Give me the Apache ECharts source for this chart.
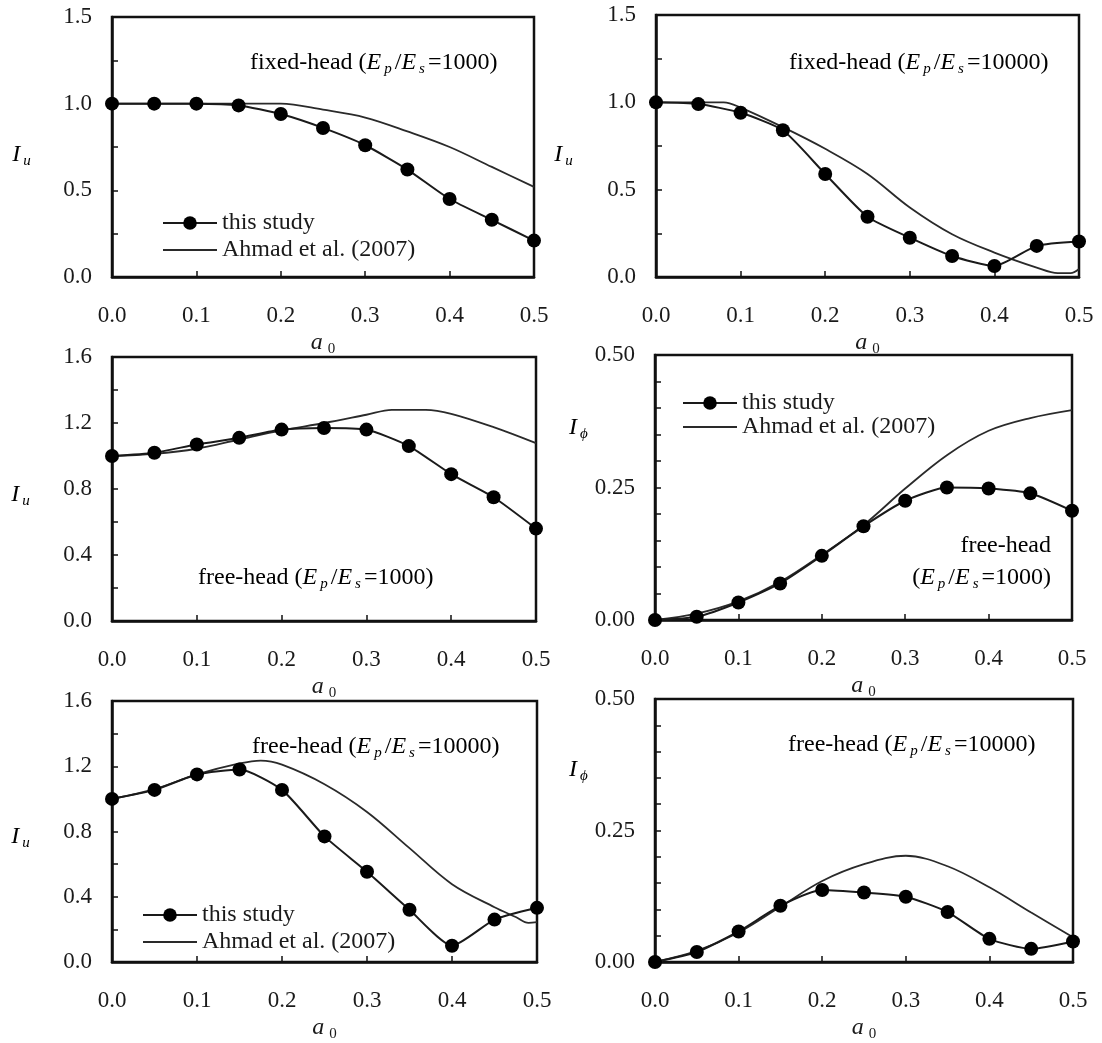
<!DOCTYPE html>
<html>
<head>
<meta charset="utf-8">
<script src="https://cdn.jsdelivr.net/npm/echarts@6/dist/echarts.min.js"></script>
<style>
  html, body { margin: 0; padding: 0; background: #fff; }
  #chart { width: 1102px; height: 1043px; }
</style>
</head>
<body>
<div id="chart"></div>
<script>
// frequency points of "this study"
const a0 = [0, 0.05, 0.1, 0.15, 0.2, 0.25, 0.3, 0.35, 0.4, 0.45, 0.5];
const xTicks = ['0.0', '0.1', '0.2', '0.3', '0.4', '0.5'];

// fixed-head, Ep/Es = 1000 (Iu)
const fixed1000Study = [1.0, 1.0, 1.0, 0.99, 0.94, 0.86, 0.76, 0.62, 0.45, 0.33, 0.21];
const fixed1000AhmadX = [0, 0.05, 0.1, 0.15, 0.2, 0.25, 0.3, 0.35, 0.4, 0.45, 0.5];
const fixed1000AhmadY = [1.0, 1.0, 1.0, 1.0, 1.0, 0.965, 0.92, 0.84, 0.75, 0.635, 0.52];

// fixed-head, Ep/Es = 10000 (Iu)
const fixed10000Study = [1.0, 0.99, 0.94, 0.84, 0.59, 0.345, 0.225, 0.12, 0.063, 0.178, 0.203];
const fixed10000AhmadX = [0, 0.05, 0.08, 0.1, 0.15, 0.2, 0.25, 0.3, 0.35, 0.4, 0.45, 0.475, 0.49, 0.5];
const fixed10000AhmadY = [1.0, 1.0, 1.0, 0.97, 0.858, 0.734, 0.59, 0.398, 0.245, 0.14, 0.054, 0.022, 0.022, 0.046];

// free-head, Ep/Es = 1000 (Iu)
const free1000Study = [1.0, 1.02, 1.07, 1.11, 1.16, 1.17, 1.16, 1.06, 0.89, 0.75, 0.56];
const free1000AhmadX = [0, 0.05, 0.1, 0.15, 0.2, 0.25, 0.3, 0.33, 0.37, 0.4, 0.45, 0.5];
const free1000AhmadY = [1.0, 1.013, 1.044, 1.1, 1.155, 1.2, 1.25, 1.28, 1.28, 1.256, 1.175, 1.078];

// free-head, Ep/Es = 1000 (Iphi)
const free1000RotStudy = [0, 0.006, 0.033, 0.069, 0.121, 0.177, 0.225, 0.25, 0.248, 0.239, 0.206];
const free1000RotAhmadX = [0, 0.05, 0.1, 0.15, 0.2, 0.25, 0.3, 0.35, 0.4, 0.45, 0.5];
const free1000RotAhmadY = [0, 0.012, 0.035, 0.072, 0.123, 0.179, 0.248, 0.311, 0.357, 0.381, 0.396];

// free-head, Ep/Es = 10000 (Iu)
const free10000Study = [1.0, 1.055, 1.15, 1.18, 1.055, 0.77, 0.553, 0.32, 0.1, 0.26, 0.332];
const free10000AhmadX = [0, 0.05, 0.1, 0.15, 0.175, 0.2, 0.25, 0.3, 0.35, 0.4, 0.45, 0.475, 0.49, 0.5];
const free10000AhmadY = [1.0, 1.06, 1.15, 1.217, 1.235, 1.21, 1.09, 0.92, 0.698, 0.477, 0.336, 0.276, 0.24, 0.245];

// free-head, Ep/Es = 10000 (Iphi)
const free10000RotStudy = [0, 0.019, 0.058, 0.107, 0.137, 0.132, 0.124, 0.095, 0.044, 0.025, 0.039];
const free10000RotAhmadX = [0, 0.05, 0.1, 0.15, 0.2, 0.25, 0.3, 0.35, 0.4, 0.45, 0.5];
const free10000RotAhmadY = [0, 0.021, 0.056, 0.105, 0.154, 0.186, 0.202, 0.182, 0.142, 0.094, 0.047];

const legendNames = ['this study', 'Ahmad et al. (2007)'];

const SERIF = '"Liberation Serif", "DejaVu Serif", serif';
const INK = '#1a1a1a';

const zip = (xs, ys) => xs.map((x, i) => [x, ys[i]]);

// panel layout: grid box + y scale
const panels = [
  { grid: [112, 17, 422, 260], max: 1.5, step: 0.5, minor: 2, dec: 1,
    study: fixed1000Study, ax: fixed1000AhmadX, ay: fixed1000AhmadY },
  { grid: [656, 15, 423, 262], max: 1.5, step: 0.5, minor: 2, dec: 1,
    study: fixed10000Study, ax: fixed10000AhmadX, ay: fixed10000AhmadY },
  { grid: [112, 357, 424, 264], max: 1.6, step: 0.4, minor: 2, dec: 1,
    study: free1000Study, ax: free1000AhmadX, ay: free1000AhmadY },
  { grid: [655, 355, 417, 265], max: 0.5, step: 0.25, minor: 5, dec: 2,
    study: free1000RotStudy, ax: free1000RotAhmadX, ay: free1000RotAhmadY },
  { grid: [112, 701, 425, 265], max: 1.6, step: 0.4, minor: 2, dec: 1,
    study: free10000Study, ax: free10000AhmadX, ay: free10000AhmadY },
  { grid: [655, 699, 418, 266], max: 0.5, step: 0.25, minor: 5, dec: 2,
    study: free10000RotStudy, ax: free10000RotAhmadX, ay: free10000RotAhmadY }
];

const nameRich = {
  i: { fontFamily: SERIF, fontSize: 24, fontStyle: 'italic', color: INK, lineHeight: 28, verticalAlign: 'middle' },
  n: { fontFamily: SERIF, fontSize: 24, color: INK, lineHeight: 28, verticalAlign: 'middle' },
  s: { fontFamily: SERIF, fontSize: 15, fontStyle: 'italic', color: INK, lineHeight: 15, verticalAlign: 'bottom', padding: [0, 3, 0, 3] },
  z: { fontFamily: SERIF, fontSize: 15, color: INK, lineHeight: 22, verticalAlign: 'bottom', padding: [0, 0, 0, 5] }
};

const grids = [], xAxes = [], yAxes = [], series = [];
panels.forEach((p, k) => {
  grids.push({
    left: p.grid[0], top: p.grid[1], width: p.grid[2], height: p.grid[3],
    show: true, borderColor: '#111', borderWidth: 2.5, backgroundColor: 'transparent'
  });
  xAxes.push({
    gridIndex: k, type: 'value', min: 0, max: 0.5, interval: 0.1,
    name: '{i|a}{z|0}', nameLocation: 'middle', nameGap: 52,
    nameTextStyle: { rich: nameRich },
    axisLine: { lineStyle: { color: '#111', width: 2.5 } },
    axisTick: { inside: true, length: 6, lineStyle: { color: '#111', width: 1.5 } },
    axisLabel: {
      margin: 27, fontFamily: SERIF, fontSize: 23, color: INK,
      formatter: v => xTicks[Math.round(v * 10)]
    },
    splitLine: { show: false }
  });
  yAxes.push({
    gridIndex: k, type: 'value', min: 0, max: p.max, interval: p.step,
    axisLine: { show: true, lineStyle: { color: '#111', width: 2.5 } },
    axisTick: { show: true, inside: true, length: 6, lineStyle: { color: '#111', width: 1.5 } },
    minorTick: { show: true, splitNumber: p.minor, length: 6, lineStyle: { color: '#111', width: 1.5 } },
    axisLabel: {
      margin: 20, fontFamily: SERIF, fontSize: 23, color: INK,
      formatter: v => v.toFixed(p.dec)
    },
    splitLine: { show: false }
  });
  series.push({
    name: legendNames[1], type: 'line', xAxisIndex: k, yAxisIndex: k,
    data: zip(p.ax, p.ay), symbol: 'none', smooth: 0.35,
    itemStyle: { color: '#2a2a2a' },
    lineStyle: { color: '#2a2a2a', width: 1.8 }, z: 2
  });
  series.push({
    name: legendNames[0], type: 'line', xAxisIndex: k, yAxisIndex: k,
    data: zip(a0, p.study), symbol: 'circle', symbolSize: 14, smooth: 0.2,
    itemStyle: { color: '#000' },
    lineStyle: { color: '#1a1a1a', width: 2 }, z: 3
  });
});

const legendBase = {
  orient: 'vertical', itemWidth: 54, itemHeight: 17,
  selectedMode: false,
  data: [
    { name: legendNames[0] },
    { name: legendNames[1], itemStyle: { opacity: 0 } }
  ],
  textStyle: { fontFamily: SERIF, fontSize: 24, color: INK }
};
const legends = [
  Object.assign({}, legendBase, { left: 157, top: 206, itemGap: 3 }),
  Object.assign({}, legendBase, { left: 677, top: 386, itemGap: 0 }),
  Object.assign({}, legendBase, { left: 137, top: 898, itemGap: 3 })
];

// annotation texts
function rt(text, x, y, align) {
  return {
    type: 'text', x: x, y: y, silent: true,
    style: { text: text, rich: nameRich, align: align || 'left', verticalAlign: 'middle' }
  };
}
const epes = v => '{i|E}{s|p}{n|/}{i|E}{s|s}{n|=' + v + ')}';
const graphics = [
  rt('{n|fixed-head (}' + epes(1000), 250, 63),
  rt('{n|fixed-head (}' + epes(10000), 789, 63),
  rt('{n|free-head (}' + epes(1000), 198, 578),
  rt('{n|free-head}', 1051, 546, 'right'),
  rt('{n|(}' + epes(1000), 1051, 578, 'right'),
  rt('{n|free-head (}' + epes(10000), 252, 747),
  rt('{n|free-head (}' + epes(10000), 788, 745),
  rt('{i|I}{s|u}', 23, 155, 'center'),
  rt('{i|I}{s|u}', 565, 155, 'center'),
  rt('{i|I}{s|u}', 22, 495, 'center'),
  rt('{i|I}{s|ϕ}', 580, 428, 'center'),
  rt('{i|I}{s|u}', 22, 837, 'center'),
  rt('{i|I}{s|ϕ}', 580, 770, 'center')
];

const chart = echarts.init(document.getElementById('chart'));
chart.setOption({
  animation: false,
  backgroundColor: '#fff',
  grid: grids,
  xAxis: xAxes,
  yAxis: yAxes,
  legend: legends,
  series: series,
  graphic: graphics
});
</script>
</body>
</html>
